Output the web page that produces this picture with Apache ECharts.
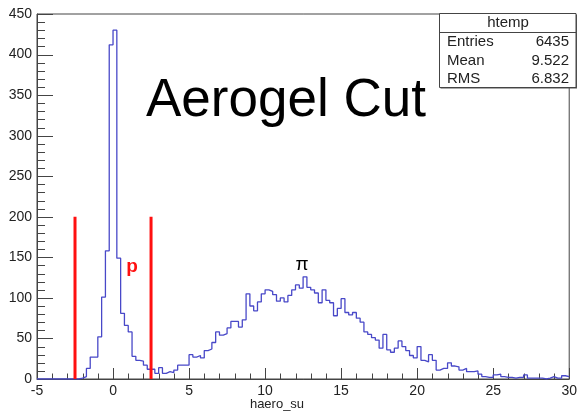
<!DOCTYPE html>
<html><head><meta charset="utf-8">
<script src="https://cdn.jsdelivr.net/npm/echarts@6/dist/echarts.min.js"></script>
<style>html,body{margin:0;padding:0;background:#fff}#c{width:580px;height:411px}</style>
</head><body><div id="c"></div>
<script>
// Histogram binning (ROOT htemp): 140 bins of width 0.25 from -5 to 30
const binLow = -5;
const binWidth = 0.25;
const counts = [
  0,0,0,0,0,0,0,0,0,0,
  0,1,3,13,27,27,52,101,158,412,
  430,149,81,66,58,28,23,22,17,12,
  12,7,14,7,9,8,11,17,17,17,
  30,27,29,26,35,37,45,58,54,56,
  63,71,71,64,73,105,90,84,95,105,
  110,108,104,96,100,95,103,110,116,112,
  126,113,110,106,94,110,97,94,78,87,
  99,82,79,82,75,70,58,55,51,48,
  38,55,36,33,38,47,40,35,29,26,
  40,23,21,30,23,11,13,13,20,16,
  15,11,13,9,9,10,6,3,2,2,
  5,6,3,2,2,1,2,2,5,1,
  1,1,1,0,1,3,1,1,4,3
];
const xRange = [-5, 30];
const yRange = [0, 450];
const xMajorStep = 5, xMinorStep = 1;
const yMajorStep = 50, yMinorStep = 10;
const cutPositions = [-2.5, 2.5];
const cutHeight = 200;
const statsTitle = 'htemp';
const statsLabels = ['Entries', 'Mean', 'RMS'];
const statsValues = ['6435', '9.522', '6.832'];
const xAxisTitle = 'haero_su';
const chartTitle = 'Aerogel Cut';

const histData = counts.map((v, i) => [binLow + i * binWidth, v]);
histData.push([binLow + counts.length * binWidth, counts[counts.length - 1]]);

const FONT = '"Liberation Sans", Arial, Helvetica, sans-serif';
const AX = '#444';
const chart = echarts.init(document.getElementById('c'), null, {renderer: 'canvas'});

const cutSeries = cutPositions.map(x => ({
  type: 'line', data: [[x, 0], [x, cutHeight]], symbol: 'none', silent: true,
  lineStyle: {color: '#ff1010', width: 3}, z: 5
}));

chart.setOption({
  animation: false,
  backgroundColor: '#fff',
  grid: {left: 37, right: 5, top: 14, bottom: 32, show: true, borderColor: AX, borderWidth: 1, backgroundColor: 'transparent'},
  xAxis: {
    type: 'value', min: xRange[0], max: xRange[1], interval: xMajorStep,
    axisLine: {show: true, onZero: false, lineStyle: {color: AX, width: 1}},
    axisTick: {show: false},
    splitLine: {show: false},
    axisLabel: {margin: 5, fontSize: 14, fontFamily: FONT, color: '#222', showMinLabel: true, showMaxLabel: true, hideOverlap: false}
  },
  yAxis: {
    type: 'value', min: yRange[0], max: yRange[1], interval: yMajorStep,
    axisLine: {show: true, onZero: false, lineStyle: {color: AX, width: 1}},
    axisTick: {show: false},
    splitLine: {show: false},
    axisLabel: {margin: 5, fontSize: 14, fontFamily: FONT, color: '#222', showMinLabel: true, showMaxLabel: true}
  },
  series: [{
    type: 'line', data: histData, step: 'end', symbol: 'none', silent: true,
    lineStyle: {color: '#4848c8', width: 1.3}, z: 3
  }].concat(cutSeries)
});

// ROOT-style tick marks inside the frame, placed through the chart's own axes
const graphics = [];
const isMajor = (v, step) => Math.abs(v / step - Math.round(v / step)) < 1e-9;
for (let k = 0; xRange[0] + k * xMinorStep <= xRange[1] + 1e-9; k++) {
  const v = xRange[0] + k * xMinorStep;
  const p = chart.convertToPixel({gridIndex: 0}, [v, yRange[0]]);
  const len = isMajor(v, xMajorStep) ? 11 : 5.5;
  const px = Math.round(p[0]) + 0.5;
  graphics.push({type: 'line', shape: {x1: px, y1: p[1], x2: px, y2: p[1] - len}, style: {stroke: AX, lineWidth: 1}});
}
for (let k = 0; yRange[0] + k * yMinorStep <= yRange[1] + 1e-9; k++) {
  const v = yRange[0] + k * yMinorStep;
  const p = chart.convertToPixel({gridIndex: 0}, [xRange[0], v]);
  const len = isMajor(v, yMajorStep) ? 16 : 8;
  const py = Math.round(p[1]) + 0.5;
  graphics.push({type: 'line', shape: {x1: p[0], y1: py, x2: p[0] + len, y2: py}, style: {stroke: AX, lineWidth: 1}});
}

// stats box, title and annotations
const statsX = 439.5, statsY = 13.5, statsW = 136.5, statsH = 74;
graphics.push(
  {type: 'rect', shape: {x: statsX + 1, y: statsY + 1, width: statsW, height: statsH}, style: {fill: '#555'}},
  {type: 'rect', shape: {x: statsX, y: statsY, width: statsW, height: statsH}, style: {fill: '#fff', stroke: AX, lineWidth: 1}},
  {type: 'line', shape: {x1: statsX, y1: 32.5, x2: statsX + statsW, y2: 32.5}, style: {stroke: AX, lineWidth: 1}},
  {type: 'text', x: 508, y: 22.5, style: {text: statsTitle, font: '15px ' + FONT, fill: '#222', align: 'center', verticalAlign: 'middle'}}
);
statsLabels.forEach((lab, i) => {
  const y = 42 + i * 18.5;
  graphics.push({type: 'text', x: 447, y: y, style: {text: lab, font: '15px ' + FONT, fill: '#222', align: 'left', verticalAlign: 'middle'}});
  graphics.push({type: 'text', x: 569, y: y, style: {text: statsValues[i], font: '15px ' + FONT, fill: '#222', align: 'right', verticalAlign: 'middle'}});
});
graphics.push({type: 'text', x: 146, y: 101, style: {text: chartTitle, font: '53px ' + FONT, fill: '#000', align: 'left', verticalAlign: 'middle'}});
graphics.push({type: 'text', x: 132, y: 267, style: {text: 'p', font: 'bold 19px ' + FONT, fill: '#ff1010', align: 'center', verticalAlign: 'middle'}});
graphics.push({type: 'text', x: 302, y: 265, style: {text: 'π', font: '19px ' + FONT, fill: '#000', align: 'center', verticalAlign: 'middle'}});
graphics.push({type: 'text', x: 277, y: 404, style: {text: xAxisTitle, font: '13px ' + FONT, fill: '#222', align: 'center', verticalAlign: 'middle'}});

chart.setOption({graphic: graphics});
</script></body></html>
